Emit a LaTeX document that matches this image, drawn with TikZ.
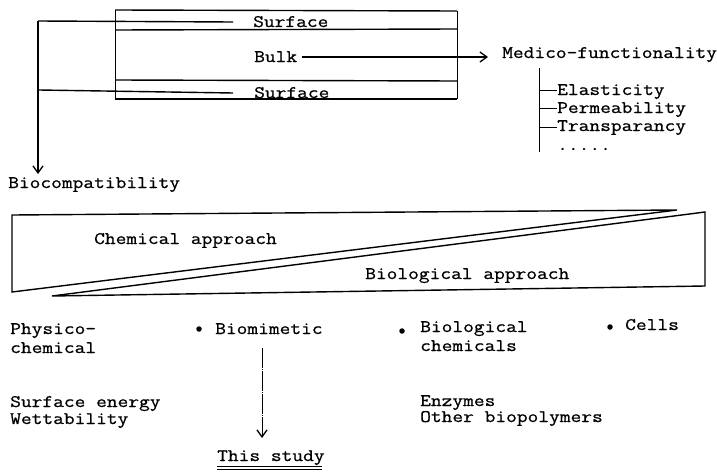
\documentclass[tikz,border=0pt]{standalone}
\usepackage{fontspec}
\newfontfamily\tw[FakeStretch=1.185,FakeBold=0.8]{Latin Modern Mono}
\usetikzlibrary{arrows.meta}
\begin{document}
\begin{tikzpicture}[x=1pt,y=-1pt,
  every node/.style={inner sep=0pt,anchor=base west,font=\tw\fontsize{17.6}{18.5}\selectfont},
  ln/.style={line width=1.4pt},
  thinln/.style={line width=1pt},
  arr/.style={-{Straight Barb[length=7pt,width=10pt,line width=1.3pt]}},
  dot/.style={circle,fill=black,minimum size=5.5pt,inner sep=0pt,anchor=center}]
\useasboundingbox (0,0) rectangle (717,471);
% top box
\draw[ln] (115,10) -- (457,11);
\draw[ln] (115,30) -- (457,29);
\draw[ln] (115,80) -- (457,81);
\draw[ln] (115,99) -- (457,99);
\draw[thinln] (115,10) -- (115,99);
\draw[thinln] (457,11) -- (457,99);
% labels in box
\node (s1) at (253,27) {Surface};
\node (bulk) at (254,62) {Bulk};
\node (s2) at (254,98) {Surface};
\node (medico) at (502,58) {Medico-functionality};
\node (bio) at (8,188) {Biocompatibility};
% surface lines to biocompat
\coordinate (c1) at (38,21);
\coordinate (c2) at (39,90);
\coordinate (c1e) at (233,22);
\coordinate (c2e) at (233,93);
\draw[ln] (c1e) -- (c1);
\draw[ln] (c2e) -- (c2);
\coordinate (ctip) at (38,174);
\draw[ln,arr] (c1) -- (ctip);
% bulk arrow
\coordinate (b1) at (302,57);
\coordinate (b2) at (488,57);
\draw[ln,arr] (b1) -- (b2);
% medico tree
\coordinate (t0) at (539,68);
\coordinate (t9) at (539,152);
\draw[thinln] (t0) -- (t9);
\node (el) at (557,95) {Elasticity};
\node (pe) at (557,113) {Permeability};
\node (tr) at (557,131) {Transparancy};
\node (dd) at (557,150) {.....};
\coordinate (e1) at (539,90);
\coordinate (e2) at (539,108);
\coordinate (e3) at (539,127);
\draw[thinln] (e1) -- (el.west |- e1);
\draw[thinln] (e2) -- (pe.west |- e2);
\draw[thinln] (e3) -- (tr.west |- e3);
% wedge
\draw[ln,line join=miter] (12,215) -- (677,210) -- (12,292) -- cycle;
\draw[ln,line join=miter] (52,296) -- (705,212) -- (705,286) -- cycle;
\node (chem) at (94,244) {Chemical approach};
\node (biol) at (365,279) {Biological approach};
% bottom
\node (phys) at (10,334) {Physico-};
\node (phys2) at (10,353) {chemical};
\node (se) at (10,407) {Surface energy};
\node (we) at (10,424) {Wettability};
\node[dot] at (199,329) {};
\node (bm) at (215,334) {Biomimetic};
\node[dot] at (402,331) {};
\node (bc) at (420,332) {Biological};
\node (bc2) at (420,351) {chemicals};
\node (en) at (420,406) {Enzymes};
\node (ob) at (420,422) {Other biopolymers};
\node[dot] at (610,327) {};
\node (ce) at (625,330) {Cells};
\node (ts) at (217,461) {This study};
\coordinate (d1) at (262,348);
\coordinate (d2) at (262,438);
\draw[line width=0.7pt,dash pattern=on 20pt off 1pt on 1pt off 1pt,arr] (d1) -- (d2);
\coordinate (u1) at (217,466);
\coordinate (u2) at (322,466);
\coordinate (u3) at (217,469.5);
\coordinate (u4) at (322,469.5);
\draw[line width=1pt] (u1) -- (u2);
\draw[line width=1pt] (u3) -- (u4);
\end{tikzpicture}
\end{document}
